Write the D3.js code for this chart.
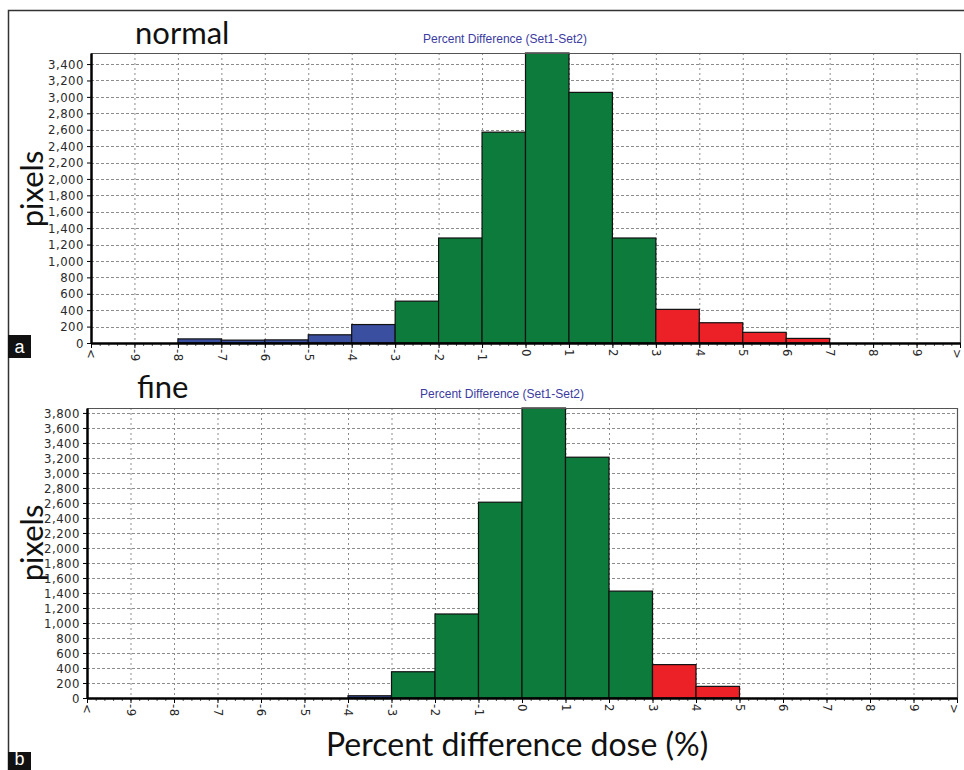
<!DOCTYPE html>
<html>
<head>
<meta charset="utf-8">
<script src="https://cdn.jsdelivr.net/npm/d3@7"></script>
<style>
  body { margin: 0; background: #fff; }
  .tick text { font-family: "Liberation Sans Narrow", "DejaVu Sans Condensed", sans-serif; font-size: 13px; letter-spacing: 0.5px; fill: #2a2a2a; }
</style>
</head>
<body>
<div id="chart"></div>
<script>
// histogram bins, 1% wide, start of each bin
var binStarts = [-10, -9, -8, -7, -6, -5, -4, -3, -2, -1, 0, 1, 2, 3, 4, 5, 6, 7, 8, 9]

// pixel counts
var normalCounts = [0, 0, 50, 35, 38, 100, 225, 510, 1280, 2570, 3540, 3055, 1280, 410, 247, 130, 56, 0, 0, 0]
var fineCounts   = [0, 0, 0, 0, 0, 0, 30, 350, 1120, 2610, 3870, 3210, 1425, 445, 155, 0, 0, 0, 0, 0]

var xTickValues = [-10, -9, -8, -7, -6, -5, -4, -3, -2, -1, 0, 1, 2, 3, 4, 5, 6, 7, 8, 9, 10]
var xTickLabels = ["<", "-9", "-8", "-7", "-6", "-5", "-4", "-3", "-2", "-1", "0", "1", "2", "3", "4", "5", "6", "7", "8", "9", ">"]

var yTicksNormal = [0, 200, 400, 600, 800, 1000, 1200, 1400, 1600, 1800, 2000, 2200, 2400, 2600, 2800, 3000, 3200, 3400]
var yTicksFine = [0, 200, 400, 600, 800, 1000, 1200, 1400, 1600, 1800, 2000, 2200, 2400, 2600, 2800, 3000, 3200, 3400, 3600, 3800]

var width = 964
var height = 770

var colors = { low: "#3a4fa0", mid: "#0c7b3c", high: "#ec2027" }

var svg = d3.select("#chart")
  .append("svg")
    .attr("width", width)
    .attr("height", height)

// outer frame of the figure
svg.append("rect")
  .attr("x", 8.5)
  .attr("y", 10.5)
  .attr("width", 1000)
  .attr("height", 1000)
  .attr("fill", "none")
  .attr("stroke", "#333")
  .attr("stroke-width", 1.5)

var panels = [
  { tag: "a", title: "normal", counts: normalCounts, yMax: 3535, yTicks: yTicksNormal,
    left: 91, right: 960, top: 53, bottom: 343,
    titleX: 135, titleY: 44, subX: 505, subY: 43, pixY: 189, tagY: 335, tagH: 23, tagTextY: 353 },
  { tag: "b", title: "fine", counts: fineCounts, yMax: 3866, yTicks: yTicksFine,
    left: 87, right: 957, top: 408, bottom: 698,
    titleX: 137, titleY: 398, subX: 502, subY: 398, pixY: 543, tagY: 752, tagH: 30, tagTextY: 765 }
]

panels.forEach(draw_panel)

svg.append("text")
  .attr("x", 326)
  .attr("y", 756)
  .style("font-family", "Lato, 'Open Sans', sans-serif")
  .style("font-size", "32px")
  .attr("fill", "#111")
  .text("Percent difference dose (%)")


function draw_panel(p){

  var g = svg.append("g")

  var x = d3.scaleLinear()
    .domain([-10, 10])
    .range([p.left, p.right])

  var y = d3.scaleLinear()
    .domain([0, p.yMax])
    .range([p.bottom, p.top])
    .clamp(true)

  // dashed grid
  g.append("g")
    .selectAll("vgrid")
    .data(xTickValues.slice(1, -1))
    .enter().append("line")
      .attr("x1", d => x(d) + 0.5)
      .attr("x2", d => x(d) + 0.5)
      .attr("y1", p.top)
      .attr("y2", p.bottom)
      .attr("stroke", "#8c8c8c")
      .attr("stroke-dasharray", "2,3")

  g.append("g")
    .selectAll("hgrid")
    .data(p.yTicks.filter(d => d > 0))
    .enter().append("line")
      .attr("x1", p.left)
      .attr("x2", p.right)
      .attr("y1", d => Math.round(y(d)) + 0.5)
      .attr("y2", d => Math.round(y(d)) + 0.5)
      .attr("stroke", "#8c8c8c")
      .attr("stroke-dasharray", "3,2")

  // bars
  var bins = binStarts.map((b, i) => ({ x0: b, x1: b + 1, v: p.counts[i] }))
    .filter(d => d.v > 0)

  g.append("g")
    .selectAll("bar")
    .data(bins)
    .enter().append("rect")
      .attr("x", d => x(d.x0))
      .attr("y", d => y(d.v))
      .attr("width", d => x(d.x1) - x(d.x0))
      .attr("height", d => p.bottom - y(d.v))
      .style("fill", d => d.x1 <= -3 ? colors.low : (d.x0 >= 3 ? colors.high : colors.mid))
      .attr("stroke", "#111")
      .attr("stroke-width", 1.2)

  // top and right border of the plot
  g.append("path")
    .attr("d", "M" + p.left + "," + (p.top + 0.5) + "H" + (p.right + 0.5) + "V" + p.bottom)
    .attr("fill", "none")
    .attr("stroke", "#555")
    .attr("stroke-width", 1.2)

  // y axis
  var yAxis = g.append("g")
    .attr("transform", "translate(" + p.left + ",0)")
    .call(d3.axisLeft(y)
      .tickValues(p.yTicks)
      .tickFormat(d3.format(","))
      .tickSize(4)
      .tickSizeOuter(0)
      .tickPadding(3))
  yAxis.select(".domain").attr("stroke", "#000").attr("stroke-width", 2.5)

  // minor x ticks
  var minor = g.append("g")
    .attr("transform", "translate(0," + p.bottom + ")")
    .call(d3.axisBottom(x)
      .tickValues(d3.range(-10, 10.001, 0.2))
      .tickFormat("")
      .tickSize(3)
      .tickSizeOuter(0))
  minor.select(".domain").remove()
  minor.selectAll("line").attr("stroke", "#555")

  // major x ticks with rotated labels
  var xAxis = g.append("g")
    .attr("transform", "translate(0," + p.bottom + ")")
    .call(d3.axisBottom(x)
      .tickValues(xTickValues)
      .tickFormat((d, i) => xTickLabels[i])
      .tickSize(5)
      .tickSizeOuter(0))
  xAxis.select(".domain").attr("stroke", "#000").attr("stroke-width", 2.5)
  xAxis.selectAll("text")
    .attr("y", 0)
    .attr("x", 6)
    .attr("dy", "0.32em")
    .attr("transform", "rotate(90)")
    .style("text-anchor", "start")
  // keep the last arrow label inside the page
  xAxis.selectAll(".tick").filter(d => d === 10).select("text").attr("dy", "0.6em")

  // titles
  svg.append("text")
    .attr("x", p.titleX)
    .attr("y", p.titleY)
    .style("font-family", "Lato, 'Open Sans', sans-serif")
    .style("font-size", "31px")
    .attr("fill", "#111")
    .text(p.title)

  svg.append("text")
    .attr("x", p.subX)
    .attr("y", p.subY)
    .attr("text-anchor", "middle")
    .style("font-family", "'Liberation Sans', Arial, sans-serif")
    .style("font-size", "12px")
    .attr("fill", "#3b3ba0")
    .text("Percent Difference (Set1-Set2)")

  svg.append("text")
    .attr("transform", "translate(43," + p.pixY + ") rotate(-90)")
    .attr("text-anchor", "middle")
    .style("font-family", "Lato, 'Open Sans', sans-serif")
    .style("font-size", "31px")
    .attr("fill", "#111")
    .text("pixels")

  // panel tag
  svg.append("rect")
    .attr("x", 8)
    .attr("y", p.tagY)
    .attr("width", 23)
    .attr("height", p.tagH)
    .attr("fill", "#111")

  svg.append("text")
    .attr("x", 19.5)
    .attr("y", p.tagTextY)
    .attr("text-anchor", "middle")
    .style("font-family", "'Liberation Sans', Arial, sans-serif")
    .style("font-size", "18px")
    .attr("fill", "#fff")
    .text(p.tag)
}
</script>
</body>
</html>
